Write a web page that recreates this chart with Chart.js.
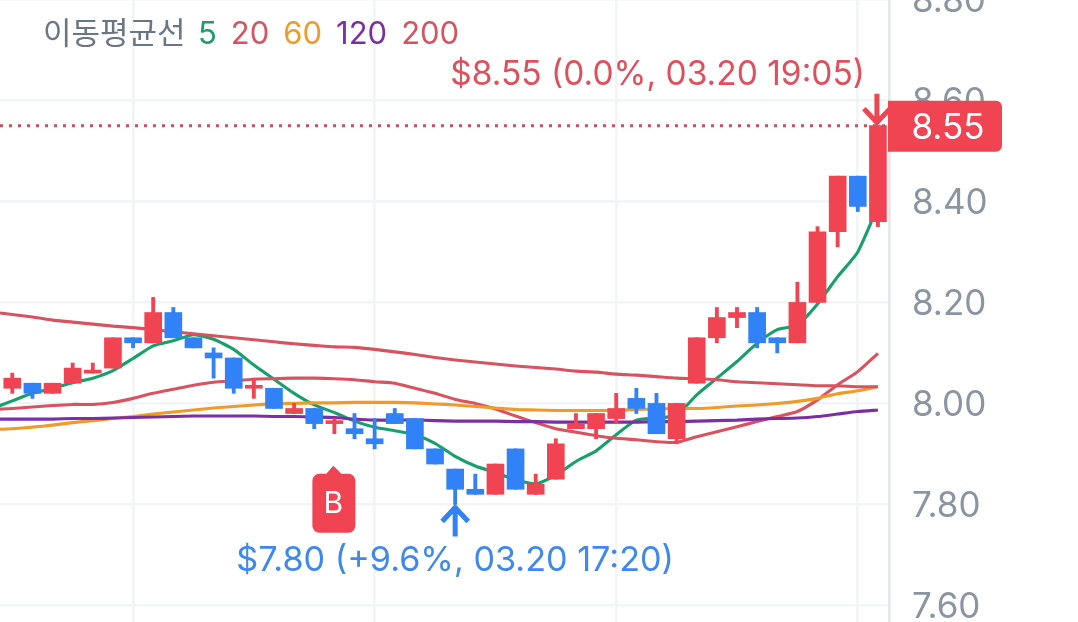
<!DOCTYPE html>
<html>
<head>
<meta charset="utf-8">
<style>
html, body { margin: 0; padding: 0; background: #fff; overflow: hidden; width: 1078px; height: 622px; }
#wrap { position: absolute; left: 0; top: -40px; width: 1078px; height: 702px; }
</style>
<script src="https://cdn.jsdelivr.net/npm/chart.js@4/dist/chart.umd.min.js"></script>
</head>
<body>
<div id="wrap"><canvas id="myChart" width="1078" height="702"></canvas></div>
<script>
const tradeDate = '03.20'
const times = ['15:30','15:35','15:40','15:45','15:50','15:55','16:00','16:05','16:10','16:15','16:20','16:25','16:30','16:35','16:40','16:45','16:50','16:55','17:00','17:05','17:10','17:15','17:20','17:25','17:30','17:35','17:40','17:45','17:50','17:55','18:00','18:05','18:10','18:15','18:20','18:25','18:30','18:35','18:40','18:45','18:50','18:55','19:00','19:05']
const opens = [8.03,8.04,8.02,8.04,8.06,8.07,8.13,8.12,8.18,8.13,8.10,8.09,8.03,8.03,7.98,7.99,7.96,7.95,7.93,7.98,7.97,7.91,7.87,7.83,7.82,7.91,7.82,7.85,7.95,7.95,7.97,8.01,8.00,7.93,8.04,8.13,8.17,8.18,8.13,8.12,8.20,8.34,8.45,8.36]
const highs = [8.06,8.04,8.04,8.08,8.08,8.13,8.13,8.21,8.19,8.13,8.11,8.09,8.05,8.03,8.00,7.99,7.97,7.98,7.97,7.99,7.97,7.91,7.87,7.86,7.88,7.91,7.86,7.93,7.98,7.98,8.02,8.03,8.02,8.00,8.13,8.19,8.19,8.19,8.13,8.24,8.35,8.45,8.45,8.55]
const lows = [8.02,8.01,8.02,8.04,8.06,8.07,8.11,8.12,8.13,8.11,8.05,8.02,8.01,7.99,7.98,7.95,7.94,7.93,7.91,7.96,7.91,7.88,7.80,7.82,7.82,7.83,7.82,7.85,7.95,7.93,7.96,7.98,7.94,7.92,8.04,8.12,8.15,8.11,8.10,8.12,8.20,8.31,8.38,8.35]
const closes = [8.05,8.02,8.04,8.07,8.06,8.13,8.12,8.18,8.13,8.11,8.09,8.03,8.03,7.99,7.99,7.96,7.96,7.94,7.92,7.96,7.91,7.88,7.83,7.82,7.88,7.83,7.84,7.92,7.96,7.98,7.99,7.99,7.94,8.00,8.13,8.17,8.18,8.12,8.12,8.20,8.34,8.45,8.39,8.55]
// moving averages start one candle before the first visible one
const ma5 = [7.990,8.005,8.020,8.030,8.041,8.050,8.065,8.089,8.114,8.124,8.136,8.127,8.107,8.076,8.048,8.020,7.997,7.982,7.965,7.953,7.946,7.938,7.921,7.895,7.876,7.863,7.849,7.841,7.858,7.885,7.906,7.938,7.967,7.971,7.977,8.017,8.050,8.083,8.119,8.146,8.155,8.197,8.251,8.300,8.390]
const ma20 = [7.988,7.990,7.993,7.996,7.998,7.998,8.002,8.010,8.020,8.028,8.036,8.042,8.045,8.048,8.049,8.050,8.050,8.049,8.047,8.043,8.040,8.030,8.020,8.008,8.000,7.989,7.975,7.962,7.950,7.943,7.936,7.931,7.928,7.924,7.923,7.934,7.944,7.954,7.964,7.974,7.984,8.007,8.037,8.063,8.099]
const ma60 = [7.948,7.950,7.953,7.957,7.962,7.966,7.970,7.974,7.979,7.983,7.987,7.991,7.994,7.997,7.999,8.000,8.001,8.001,8.002,8.002,8.002,8.001,7.999,7.997,7.994,7.991,7.988,7.987,7.986,7.986,7.986,7.986,7.988,7.989,7.990,7.990,7.992,7.995,7.997,8.000,8.004,8.010,8.019,8.025,8.033]
const ma120 = [7.969,7.969,7.969,7.969,7.970,7.970,7.971,7.972,7.973,7.974,7.975,7.975,7.975,7.975,7.974,7.974,7.973,7.972,7.969,7.967,7.967,7.967,7.966,7.965,7.965,7.965,7.964,7.964,7.963,7.963,7.963,7.963,7.963,7.964,7.964,7.965,7.966,7.967,7.969,7.970,7.971,7.974,7.979,7.984,7.987]
const ma200 = [8.181,8.176,8.171,8.165,8.161,8.157,8.153,8.150,8.146,8.142,8.138,8.134,8.130,8.126,8.122,8.118,8.115,8.112,8.111,8.107,8.102,8.097,8.091,8.086,8.082,8.078,8.074,8.071,8.068,8.064,8.062,8.058,8.056,8.053,8.050,8.049,8.047,8.043,8.041,8.039,8.037,8.035,8.035,8.033,8.033]
const yTicks = [7.6,7.8,8.0,8.2,8.4,8.6,8.8]
const xGridIndex = [6,18,30,42]
const maNames = ['5','20','60','120','200']
const legendTitle = '이동평균선'
const buyIndex = 16
const buyLabel = 'B'

const red = '#f04452'
const blue = '#3182f6'
const maColors = ['#18a06c','#d9525f','#f09a2a','#7c2fa3','#d9525f']
const font = 'Inter, "Noto Sans CJK KR", sans-serif'
const pageTop = 40

const candleColors = closes.map((c, i) => c >= opens[i] ? red : blue)
const lastIndex = closes.length - 1
const lastPrice = closes[lastIndex]
const highPrice = Math.max(...highs)
const lowPrice = Math.min(...lows)
const highIndex = highs.indexOf(highPrice)
const lowIndex = lows.indexOf(lowPrice)

const pctText = (from) => {
    const pct = (lastPrice - from) / from * 100
    return (pct > 0 ? '+' : '') + pct.toFixed(1) + '%'
}

const maDataset = (values, color) => ({
    type: 'line',
    data: values.map((v, i) => ({ x: i - 1, y: v })),
    borderColor: color,
    borderWidth: 3.1,
    pointRadius: 0,
    tension: 0.2,
    order: 5
})

const drawArrow = (ctx, x, fromY, toY, color) => {
    const dir = toY > fromY ? -1 : 1
    ctx.strokeStyle = color
    ctx.lineWidth = 5
    ctx.beginPath()
    ctx.moveTo(x, fromY)
    ctx.lineTo(x, toY)
    ctx.moveTo(x - 13, toY + dir * 14)
    ctx.lineTo(x, toY)
    ctx.lineTo(x + 13, toY + dir * 14)
    ctx.stroke()
}

const overlayPlugin = {
    id: 'overlay',
    afterDraw(chart) {
        const ctx = chart.ctx
        const xs = chart.scales.x
        const ys = chart.scales.y
        ctx.save()
        ctx.textBaseline = 'middle'

        // legend
        ctx.font = '31px ' + font
        ctx.textAlign = 'left'
        ctx.fillStyle = '#6b7684'
        ctx.fillText(legendTitle, 43, 35 + pageTop)
        let legendX = 198
        maNames.forEach((name, i) => {
            ctx.fillStyle = maColors[i]
            ctx.fillText(name, legendX, 35 + pageTop)
            legendX += ctx.measureText(name).width + 14
        })

        // last price line and tag
        const lastY = ys.getPixelForValue(lastPrice)
        ctx.strokeStyle = '#c9505f'
        ctx.lineWidth = 3
        ctx.setLineDash([3, 6])
        ctx.beginPath()
        ctx.moveTo(0, lastY)
        ctx.lineTo(xs.right, lastY)
        ctx.stroke()
        ctx.setLineDash([])

        ctx.fillStyle = red
        ctx.beginPath()
        ctx.roundRect(888, lastY - 25, 114, 51, [0, 6, 6, 0])
        ctx.fill()
        ctx.fillStyle = '#fff'
        ctx.font = '35px ' + font
        ctx.textAlign = 'center'
        ctx.fillText(lastPrice.toFixed(2), 948, lastY + 3)

        // high marker
        const highX = xs.getPixelForValue(highIndex)
        const highY = ys.getPixelForValue(highPrice)
        drawArrow(ctx, highX - 1, highY - 32, highY - 3, red)
        ctx.font = '33.5px ' + font
        ctx.textAlign = 'right'
        ctx.fillStyle = '#e0505c'
        ctx.fillText('$' + highPrice.toFixed(2) + ' (' + (lastPrice === highPrice ? '0.0%' : pctText(highPrice)) + ', ' + tradeDate + ' ' + times[highIndex] + ')', 865, 75 + pageTop)

        // low marker
        const lowX = xs.getPixelForValue(lowIndex)
        const lowY = ys.getPixelForValue(lowPrice)
        drawArrow(ctx, lowX, lowY + 32, lowY + 3, blue)
        ctx.font = '34.2px ' + font
        ctx.textAlign = 'center'
        ctx.fillStyle = '#3f88ee'
        ctx.fillText('$' + lowPrice.toFixed(2) + ' (' + pctText(lowPrice) + ', ' + tradeDate + ' ' + times[lowIndex] + ')', lowX, 561 + pageTop)

        // buy badge under its candle
        const buyX = xs.getPixelForValue(buyIndex)
        const buyTop = ys.getPixelForValue(lows[buyIndex]) + 40
        ctx.fillStyle = red
        ctx.beginPath()
        ctx.roundRect(buyX - 22, buyTop, 43, 59, 7)
        ctx.moveTo(buyX - 9, buyTop + 1)
        ctx.lineTo(buyX - 1, buyTop - 8)
        ctx.lineTo(buyX + 8, buyTop + 1)
        ctx.fill()
        ctx.fillStyle = '#fff'
        ctx.font = '30px ' + font
        ctx.fillText(buyLabel, buyX - 1, buyTop + 30)
        ctx.restore()
    }
}

new Chart('myChart', {
    data: {
        datasets: [
            {
                type: 'bar',
                data: closes.map((c, i) => ({ x: i, y: [opens[i], c] })),
                backgroundColor: candleColors,
                barThickness: 17,
                minBarLength: 3,
                order: 1
            },
            {
                type: 'bar',
                data: closes.map((c, i) => ({ x: i, y: [lows[i], highs[i]] })),
                backgroundColor: candleColors,
                barThickness: 3.2,
                order: 2
            },
            maDataset(ma200, maColors[4]),
            maDataset(ma120, maColors[3]),
            maDataset(ma60, maColors[2]),
            maDataset(ma20, maColors[1]),
            maDataset(ma5, maColors[0])
        ]
    },
    options: {
        responsive: false,
        animation: false,
        grouped: false,
        layout: { padding: 0 },
        plugins: {
            legend: { display: false },
            tooltip: { enabled: false }
        },
        scales: {
            x: {
                type: 'linear',
                offset: false,
                min: -0.61,
                max: 43.55,
                afterBuildTicks: (scale) => { scale.ticks = xGridIndex.map(v => ({ value: v })) },
                afterFit: (scale) => {
                    scale.height = 0
                    scale.paddingLeft = 0
                    scale.paddingRight = 0
                },
                ticks: { display: false },
                border: { display: false },
                grid: { color: '#f2f4f6', lineWidth: 2.6, drawTicks: false, offset: false }
            },
            y: {
                position: 'right',
                min: 7.488,
                max: 8.878,
                afterBuildTicks: (scale) => { scale.ticks = yTicks.map(v => ({ value: v })) },
                afterFit: (scale) => {
                    scale.width = 189
                    scale.paddingTop = 0
                    scale.paddingBottom = 0
                },
                ticks: {
                    padding: 23,
                    labelOffset: 2,
                    color: '#8b95a1',
                    font: { family: font, size: 35 },
                    callback: (v) => v.toFixed(2)
                },
                border: { display: true, color: '#e5e8eb', width: 2.8 },
                grid: { color: '#f2f4f6', lineWidth: 2.6, drawTicks: false }
            }
        }
    },
    plugins: [overlayPlugin]
})
</script>
</body>
</html>
